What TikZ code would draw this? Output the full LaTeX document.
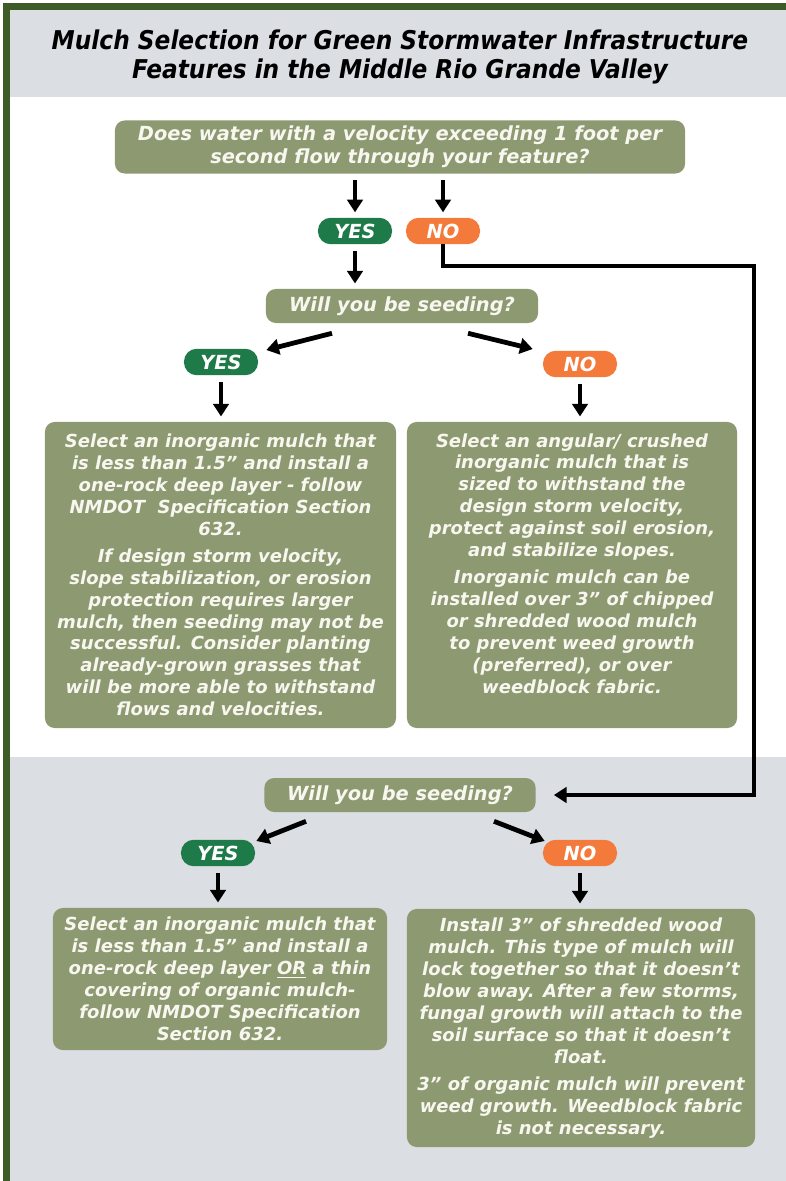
\documentclass[tikz,border=0pt]{standalone}
\usepackage{fontspec}
\setmainfont{DejaVu Sans}
\newfontfamily\titlefont[FakeStretch=0.9]{DejaVu Sans}
\usetikzlibrary{arrows.meta, positioning}

\definecolor{olivebox}{RGB}{141,153,112}
\definecolor{boxtext}{RGB}{247,247,240}
\definecolor{bandgray}{RGB}{219,222,227}
\definecolor{framegreen}{RGB}{61,92,40}
\definecolor{yesgreen}{RGB}{30,122,72}
\definecolor{noorange}{RGB}{244,122,60}

\begin{document}
\begin{tikzpicture}[
	x=0.025cm, y=-0.025cm,
	txt/.style={font=\fontsize{12.8pt}{15.6pt}\selectfont\bfseries\itshape},
	bigtxt/.style={font=\fontsize{13.8pt}{16.4pt}\selectfont\bfseries\itshape},
	box/.style={txt, draw=none, fill=olivebox, text=boxtext, rounded corners=7pt, align=center, inner sep=0pt},
	question/.style={box, bigtxt},
	badge/.style={bigtxt, fill=#1, text=white, rounded corners=9pt, minimum width=1.85cm, minimum height=0.66cm, inner sep=0pt},
	arrow/.style={-{Triangle[length=9pt, width=11pt]}, line width=3.4pt, shorten <=1.6mm, shorten >=1.3mm}
]
\useasboundingbox (0,0) rectangle (786,1181);
% background bands and frame
\fill[white] (0,0) rectangle (786,1181);
\fill[bandgray] (9,9) rectangle (786,97);
\fill[bandgray] (9,757) rectangle (786,1181);
\draw[framegreen, line width=4.3pt] (6.5,1181) -- (6.5,6.5) -- (786,6.5);

\node[font=\titlefont\fontsize{18.4pt}{20pt}\selectfont\bfseries\itshape, align=center] (title) at (400,57)
	{Mulch Selection for Green Stormwater Infrastructure\\Features in the Middle Rio Grande Valley};

% first question
\node[question, minimum width=14.25cm, minimum height=1.325cm] (flow) at (400,147)
	{Does water with a velocity exceeding 1 foot per\\second flow through your feature?};
\node[badge=yesgreen] (flowyes) at (355,231) {YES};
\node[badge=noorange] (flowno) at (443,231) {NO};

% fast flow branch
\node[question, minimum width=6.8cm, minimum height=0.85cm] (seedA) at (402,306) {Will you be seeding?};
\node[badge=yesgreen] (seedAyes) at (221,362) {YES};
\node[badge=noorange] (seedAno) at (580,364) {NO};
\node[box, minimum width=8.775cm, minimum height=7.65cm] (mulchA) at (220.5,575)
	{Select an inorganic mulch that\\
	is less than 1.5” and install a\\
	one-rock deep layer - follow\\
	NMDOT\ \ Specification Section\\
	632.\\[3.5pt]
	If design storm velocity,\\
	slope stabilization, or erosion\\
	protection requires larger\\
	mulch, then seeding may not be\\
	successful. Consider planting\\
	already-grown grasses that\\
	will be more able to withstand\\
	flows and velocities.};
\node[box, minimum width=8.25cm, minimum height=7.65cm] (mulchB) at (572,575)
	{Select an angular/ crushed\\
	inorganic mulch that is\\
	sized to withstand the\\
	design storm velocity,\\
	protect against soil erosion,\\
	and stabilize slopes.\\[3.5pt]
	Inorganic mulch can be\\
	installed over 3” of chipped\\
	or shredded wood mulch\\
	to prevent weed growth\\
	(preferred), or over\\
	weedblock fabric.\\[1pt]\mbox{}};

% slow flow branch
\node[question, minimum width=6.78cm, minimum height=0.85cm] (seedB) at (400,795) {Will you be seeding?};
\node[badge=yesgreen] (seedByes) at (218,853) {YES};
\node[badge=noorange] (seedBno) at (580,853) {NO};
\node[box, minimum width=8.35cm, minimum height=3.55cm] (mulchC) at (220,979)
	{Select an inorganic mulch that\\
	is less than 1.5” and install a\\
	one-rock deep layer \underline{OR} a thin\\
	covering of organic mulch-\\
	follow NMDOT Specification\\
	Section 632.};
\node[box, minimum width=8.7cm, minimum height=5.95cm] (mulchD) at (581,1028)
	{Install 3” of shredded wood\\
	mulch. This type of mulch will\\
	lock together so that it doesn’t\\
	blow away. After a few storms,\\
	fungal growth will attach to the\\
	soil surface so that it doesn’t\\
	float.\\[3.5pt]
	3” of organic mulch will prevent\\
	weed growth. Weedblock fabric\\
	is not necessary.};

\coordinate (detour) at (754,266);

\draw[arrow] (flow.south -| flowyes) -- (flowyes);
\draw[arrow] (flow.south -| flowno) -- (flowno);
\draw[arrow] (flowyes) -- (seedA.north -| flowyes);
\draw[arrow, shorten <=0pt, shorten >=4.5mm] (flowno.south) |- (detour) |- (seedB.east);

\draw[arrow, shorten <=0pt, shorten >=0pt] ([shift={(-70,10)}]seedA.south) -- ([shift={(8,-12)}]seedAyes.east);
\draw[arrow, shorten <=0pt, shorten >=0pt] ([shift={(66,10)}]seedA.south) -- ([shift={(-10,-15)}]seedAno.west);
\draw[arrow] (seedAyes) -- (mulchA.north -| seedAyes);
\draw[arrow] (seedAno) -- (mulchB.north -| seedAno);

\draw[arrow, shorten <=0pt, shorten >=0pt] ([shift={(-94,9)}]seedB.south) -- ([shift={(1,-12)}]seedByes.east);
\draw[arrow, shorten <=0pt, shorten >=0pt] ([shift={(94,9)}]seedB.south) -- ([shift={(2,-12)}]seedBno.west);
\draw[arrow] (seedByes) -- (mulchC.north -| seedByes);
\draw[arrow] (seedBno) -- (mulchD.north -| seedBno);
\end{tikzpicture}
\end{document}
